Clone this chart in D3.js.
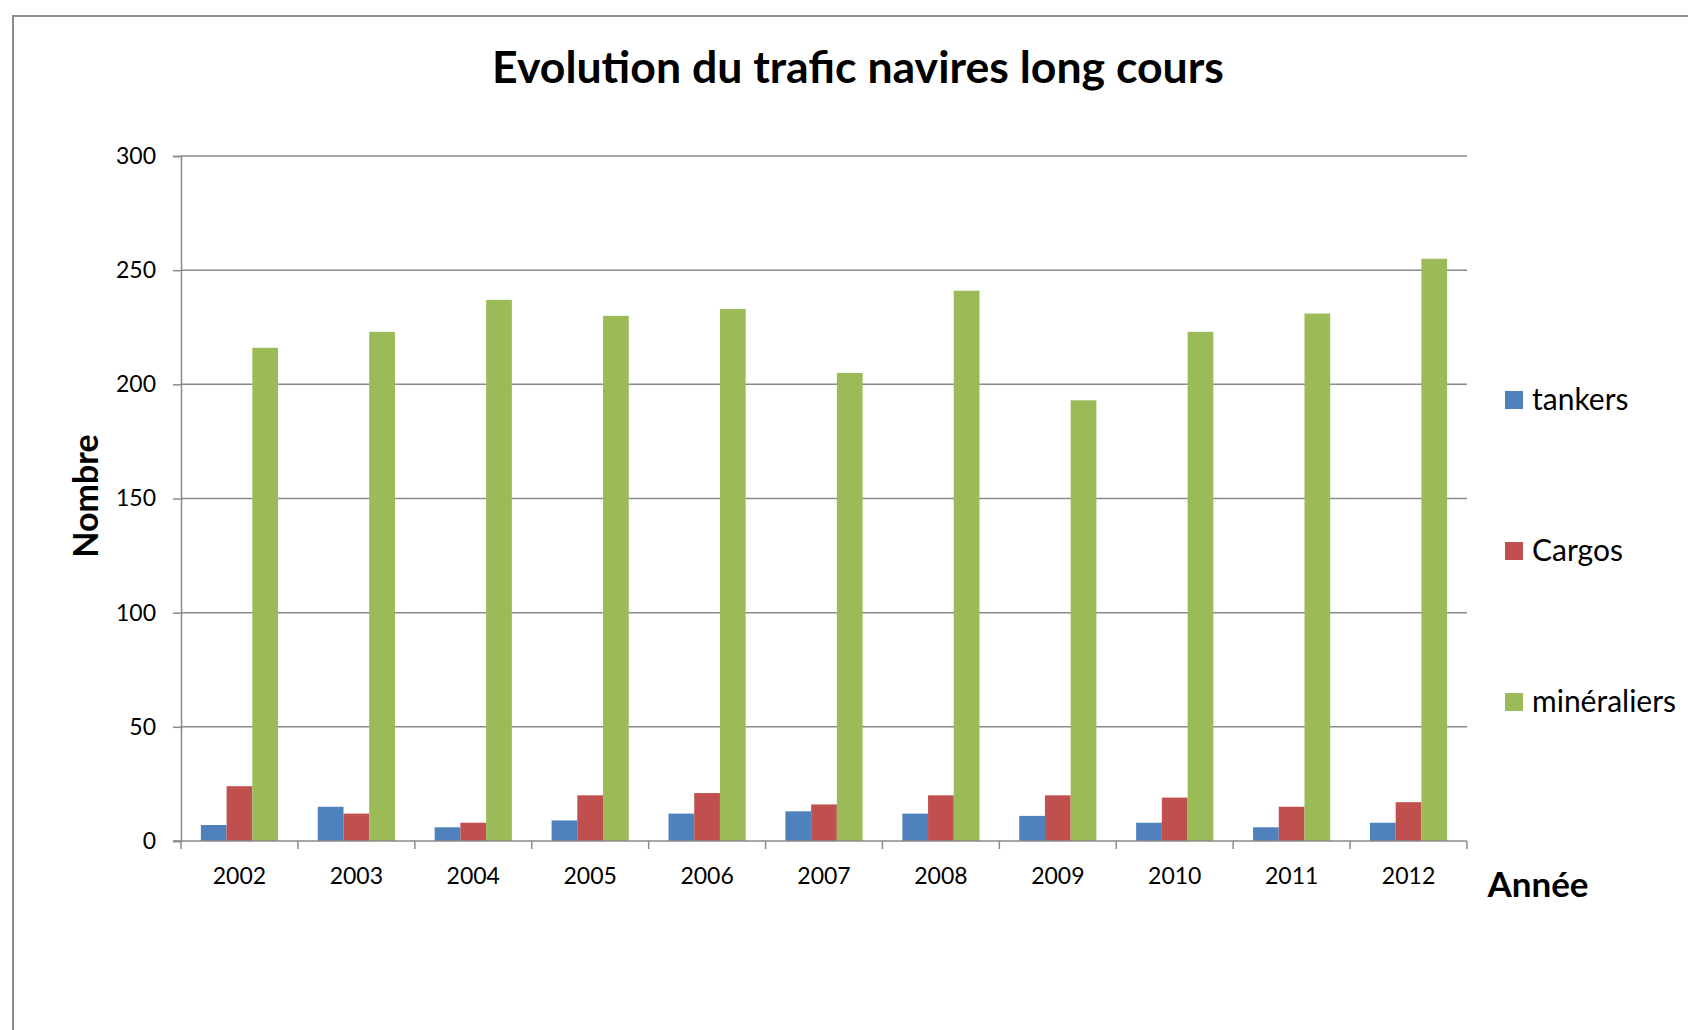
<!DOCTYPE html>
<html>
<head>
<meta charset="utf-8">
<script src="https://cdn.jsdelivr.net/npm/d3@7"></script>
<style>
  html, body { margin: 0; padding: 0; background: #fff; }
  svg { display: block; }
  text { font-family: Lato, "Open Sans", sans-serif; fill: #000; }
</style>
</head>
<body>
<svg id="chart" width="1688" height="1030"></svg>
<script>
// ---- data ----
const years = ["2002","2003","2004","2005","2006","2007","2008","2009","2010","2011","2012"];
const seriesNames = ["tankers", "Cargos", "minéraliers"];
const tankers     = [7, 15, 6, 9, 12, 13, 12, 11, 8, 6, 8];
const cargos      = [24, 12, 8, 20, 21, 16, 20, 20, 19, 15, 17];
const mineraliers = [216, 223, 237, 230, 233, 205, 241, 193, 223, 231, 255];
const yTicks = [0, 50, 100, 150, 200, 250, 300];
const colors = ["#4F81BD", "#C0504D", "#9BBB59"];
const titleText = "Evolution du trafic navires long cours";
const xTitle = "Année";
const yTitle = "Nombre";

(function () {
const seriesValues = [tankers, cargos, mineraliers];
const rows = years.map((yr, i) => ({year: yr, values: seriesValues.map(s => s[i])}));

// ---- layout ----
const svg = d3.select("#chart");
const pLeft = 181, pRight = 1467, pTop = 156, pBottom = 841;

// outer border
svg.append("rect")
  .attr("x", 13).attr("y", 16)
  .attr("width", 1700).attr("height", 1100)
  .attr("fill", "none").attr("stroke", "#8c8c8c").attr("stroke-width", 2);

const x = d3.scaleBand().domain(years).range([pLeft, pRight]).paddingInner(0.34).paddingOuter(0.17);
const xs = d3.scaleBand().domain(seriesNames).range([0, x.bandwidth()]).padding(0);
const y = d3.scaleLinear().domain([0, 300]).range([pBottom, pTop]);

// gridlines
svg.append("g").selectAll("line").data(yTicks.filter(d => d > 0)).join("line")
  .attr("x1", pLeft).attr("x2", pRight)
  .attr("y1", d => y(d)).attr("y2", d => y(d))
  .attr("stroke", "#8a8a8a").attr("stroke-width", 1.5);

// y axis
const yAxis = svg.append("g").attr("transform", `translate(${pLeft},0)`)
  .call(d3.axisLeft(y).tickValues(yTicks).tickSize(8).tickPadding(17).tickFormat(d3.format("d")));
yAxis.select(".domain").attr("stroke", "#8a8a8a").attr("stroke-width", 1.5);
yAxis.selectAll(".tick line").attr("stroke", "#8a8a8a").attr("stroke-width", 1.5);
yAxis.selectAll(".tick text").style("font-family", "Lato, sans-serif").style("font-size", "23px").attr("fill", "#000");

// bars
const groups = svg.append("g").selectAll("g").data(rows).join("g")
  .attr("transform", d => `translate(${x(d.year)},0)`);
groups.selectAll("rect").data(d => d.values.map((v, k) => ({k, v}))).join("rect")
  .attr("x", d => xs(seriesNames[d.k]))
  .attr("width", xs.bandwidth())
  .attr("y", d => y(d.v))
  .attr("height", d => y(0) - y(d.v))
  .attr("fill", d => colors[d.k]);

// x axis
const xAxis = svg.append("g").attr("transform", `translate(0,${pBottom})`)
  .call(d3.axisBottom(x).tickSize(0).tickPadding(27));
xAxis.select(".domain").remove();
xAxis.selectAll(".tick text").style("font-family", "Lato, sans-serif").style("font-size", "23px").attr("fill", "#000");
svg.append("line").attr("x1", pLeft - 8).attr("x2", pRight)
  .attr("y1", pBottom).attr("y2", pBottom)
  .attr("stroke", "#8a8a8a").attr("stroke-width", 1.5);
const boundaries = d3.range(years.length + 1).map(i => x.range()[0] + i * x.step());
svg.append("g").selectAll("line").data(boundaries).join("line")
  .attr("x1", d => d).attr("x2", d => d)
  .attr("y1", pBottom).attr("y2", pBottom + 8)
  .attr("stroke", "#8a8a8a").attr("stroke-width", 1.5);

// title
const title = svg.append("text")
  .attr("x", 858).attr("y", 83)
  .attr("text-anchor", "middle")
  .style("font-weight", "bold").style("font-size", "40px")
  .text(titleText);
const tw = title.node().getComputedTextLength();
title.style("font-size", (40 * 732 / tw) + "px");

// axis titles
svg.append("text")
  .attr("transform", `translate(98,496) rotate(-90)`)
  .attr("text-anchor", "middle")
  .style("font-weight", "bold").style("font-size", "34px")
  .text(yTitle);
svg.append("text")
  .attr("x", 1538).attr("y", 897)
  .attr("text-anchor", "middle")
  .style("font-weight", "bold").style("font-size", "35px")
  .text(xTitle);

// legend
const legendY = [400, 551, 702];
const legend = svg.append("g").selectAll("g").data(seriesNames).join("g")
  .attr("transform", (d, i) => `translate(1505,${legendY[i]})`);
legend.append("rect").attr("x", 0).attr("y", -9).attr("width", 18).attr("height", 18)
  .attr("fill", (d, i) => colors[i]);
legend.append("text").attr("x", 27).attr("y", 10)
  .style("font-size", "30px")
  .text(d => d);
})();
</script>
</body>
</html>
